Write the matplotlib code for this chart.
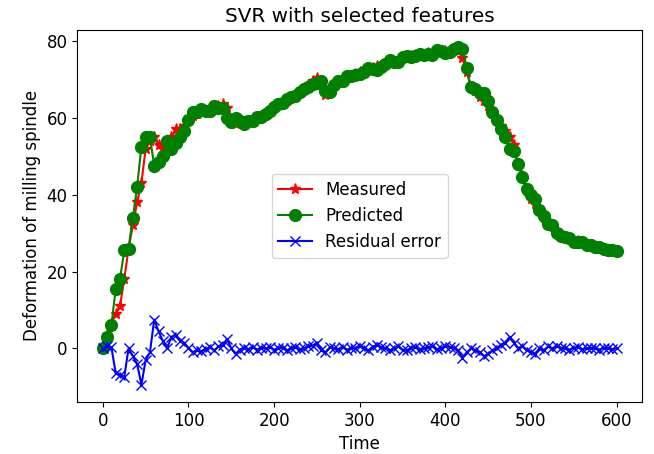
import matplotlib
matplotlib.use("Agg")
import matplotlib.pyplot as plt

# time axis (every 5 s)
time = list(range(0, 601, 5))

measured = [
    0, 3.5, 6.3, 9, 11, 18, 26, 32, 38, 43,
    52, 54, 55, 53, 52, 54, 55, 57, 57, 58,
    59.5, 60.5, 61, 61.5, 61.5, 62, 62.5, 63, 63.5, 62.5,
    59, 58.5, 59, 58.5, 59, 59.5, 60, 60.5, 61, 62,
    62.5, 63.5, 64, 64.5, 65.5, 66, 66.5, 67.5, 68.5, 69.5,
    70.5, 69, 66, 67, 68.5, 69.5, 70, 70.5, 71, 71.5,
    72, 72, 72.5, 73, 73.5, 73.5, 74, 74.5, 74.5, 75,
    75.5, 75.5, 76, 76.5, 76.5, 76.5, 77, 77, 77.5, 77.5,
    77.5, 77.5, 78, 78, 75.5, 72, 68, 67, 65.5, 64.5,
    63, 61, 59.5, 58, 56.5, 55, 53, 48, 45, 41,
    39, 37.5, 36, 34, 33, 32, 30.5, 29.5, 29, 28.5,
    28, 28, 27.5, 27, 27, 26.5, 26, 26, 25.5, 25.5,
    25.3,
]

predicted = [
    0, 3, 6, 15.5, 18, 25.5, 26, 34, 42, 52.5,
    55, 55, 47.5, 48.5, 50, 54, 52, 53.5, 55, 56.5,
    59.5, 61.5, 61.5, 62.3, 61.7, 61.7, 63, 62.5, 62.7, 60,
    59, 60, 59.3, 58.3, 59.2, 59.2, 60.3, 60.3, 61, 61.7,
    62.8, 63.5, 63.8, 65, 65.5, 65.7, 66.7, 67.5, 68, 68.8,
    69, 69.5, 67, 66.7, 68.5, 69.7, 69.7, 70.8, 71, 71.3,
    71.5, 72, 73, 72.7, 72.5, 73.2, 74, 75, 74.5, 74.5,
    75.8, 76, 75.8, 76.2, 76.7, 76.5, 76.7, 76.5, 77.7, 77.5,
    76.8, 77.2, 78, 78.5, 78, 73, 68, 67.5, 66.5, 66.5,
    64.5, 61.5, 59.5, 57, 55, 52, 51.5, 48, 44.5, 41.5,
    40, 39, 36, 34.5, 32.5, 32, 30, 29.3, 29, 28.8,
    27.8, 27.7, 27.7, 27, 26.8, 26.5, 26.3, 25.8, 25.5, 25.7,
    25.3,
]

residual = [
    0, 0.5, 0.3, -6.5, -7, -7.5, 0, -2, -4, -9.5,
    -3, -1, 7.5, 4.5, 2, 0, 3, 3.5, 2, 1.5,
    0, -1, -0.5, -0.8, -0.2, 0.3, -0.5, 0.5, 0.8, 2.5,
    0, -1.5, -0.3, 0.2, -0.2, 0.3, -0.3, 0.2, 0, 0.3,
    -0.3, 0, 0.2, -0.5, 0, 0.3, -0.2, 0, 0.5, 0.7,
    1.5, -0.5, -1, 0.3, 0, -0.2, 0.3, -0.3, 0, 0.2,
    0.5, 0, -0.5, 0.3, 1, 0.3, 0, -0.5, 0, 0.5,
    -0.3, -0.5, 0.2, 0.3, -0.2, 0, 0.3, 0.5, -0.2, 0,
    0.7, 0.3, 0, -0.5, -2.5, -1, 0, -0.5, -1, -2,
    -1.5, -0.5, 0, 1, 1.5, 3, 1.5, 0, 0.5, -0.5,
    -1, -1.5, 0, -0.5, 0.5, 0, 0.5, 0.2, 0, -0.3,
    0.2, 0.3, -0.2, 0, 0.2, 0, -0.3, 0.2, 0, -0.2,
    0,
]

plt.rcParams["font.size"] = 12

fig = plt.figure(figsize=(6.54, 4.54), dpi=100)
ax = fig.add_axes([0.118, 0.115, 0.864, 0.819])

ax.plot(time, measured, color="red", marker="*", markersize=8, label="Measured")
ax.plot(time, predicted, color="green", marker="o", markersize=8.5, label="Predicted")
ax.plot(time, residual, color="blue", marker="x", markersize=7, label="Residual error")

ax.set_title("SVR with selected features")
ax.set_xlabel("Time")
ax.set_ylabel("Deformation of milling spindle")
ax.legend(loc="center")

fig.savefig("out.png", dpi=100)
